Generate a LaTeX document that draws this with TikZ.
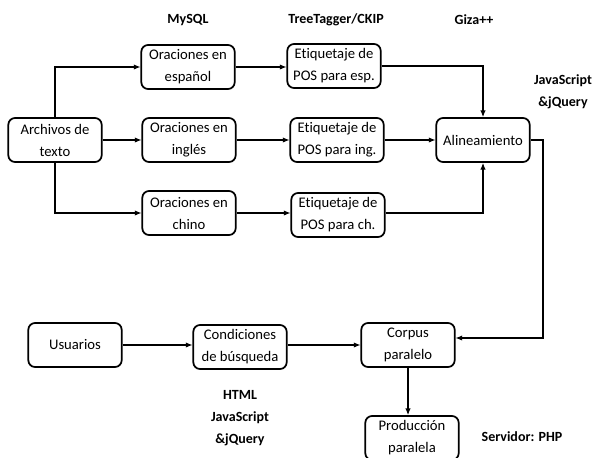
\documentclass[tikz,border=0pt]{standalone}
\usepackage{fontspec}
\setmainfont{Carlito}[Ligatures=NoCommon]
\usetikzlibrary{arrows.meta}
\tikzset{
  caja/.style={draw, line width=1.3pt, rounded corners=5pt, align=center,
    minimum width=70pt, minimum height=33pt, inner sep=1pt,
    font=\fontsize{11}{16.5}\selectfont},
  herr/.style={font=\bfseries\fontsize{10.5}{16.5}\selectfont, align=center},
  flecha/.style={-{Latex[length=5pt,width=4pt]}, line width=0.8pt},
}
\begin{document}
\begin{tikzpicture}[x=0.75pt,y=-0.75pt]
            \useasboundingbox (0,0) rectangle (595,457);
            % cajas
            \node[caja] (archivos) at (55,140) {Archivos de\\texto};
            \node[caja] (oresp) at (188,67) {Oraciones en\\español};
            \node[caja] (oring) at (189,140) {Oraciones en\\inglés};
            \node[caja] (orchi) at (189,213) {Oraciones en\\chino};
            \node[caja] (posesp) at (334,66) {Etiquetaje de\\POS para esp.};
            \node[caja] (posing) at (337,140) {Etiquetaje de\\POS para ing.};
            \node[caja] (poschi) at (338,215) {Etiquetaje de\\POS para ch.};
            \node[caja] (alinea) at (483,140) {Alineamiento};
            \node[caja] (usuarios) at (75,345) {Usuarios};
            \node[caja] (condic) at (240,347) {Condiciones\\de búsqueda};
            \node[caja] (corpus) at (408,345) {Corpus\\paralelo};
            \node[caja] (produc) at (412,438) {Producción\\paralela};
            % herramientas
            \node[herr] (mysql) at (188,20) {MySQL};
            \node[herr] (tagger) at (336,20) {TreeTagger/CKIP};
            \node[herr] (giza) at (474,20) {Giza++};
            \node[herr] (jsalin) at (563,92) {JavaScript\\\&jQuery};
            \node[herr] (html) at (240,418) {HTML\\JavaScript\\\&jQuery};
            \node[herr] (php) at (522,437) {Servidor: PHP};
            % conexiones
            \draw[flecha] (archivos.north) |- (oresp.west);
            \draw[flecha] (archivos) -- (oring);
            \draw[flecha] (archivos.south) |- (orchi.west);
            \draw[flecha] (oresp) -- (posesp.west |- oresp);
            \draw[flecha] (oring) -- (posing);
            \draw[flecha] (orchi) -- (poschi.west |- orchi);
            \draw[flecha] (posesp.east) -| (alinea.north);
            \draw[flecha] (posing) -- (alinea);
            \draw[flecha] (poschi.east |- orchi) -| (alinea.south);
            \coordinate (giro) at (543,338);
            \draw[flecha] (alinea.east) -| (giro) -- (corpus.east |- giro);
            \draw[flecha] (usuarios) -- (condic.west |- usuarios);
            \draw[flecha] (condic.east |- corpus) -- (corpus);
            \draw[flecha] (corpus.south) -- (corpus.south |- produc.north);
        \end{tikzpicture}
\end{document}
